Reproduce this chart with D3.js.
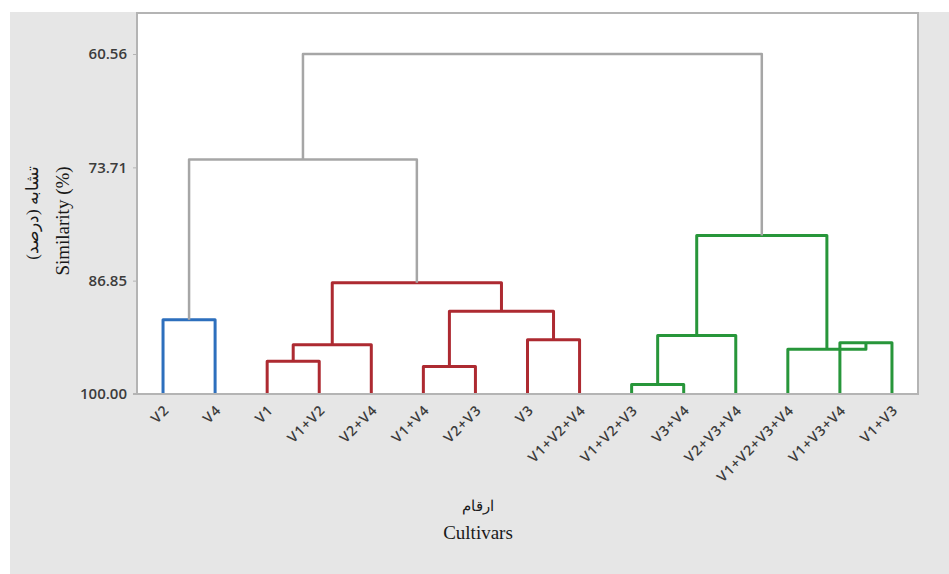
<!DOCTYPE html>
<meta charset="utf-8">
<title>Dendrogram - Cultivars</title>
<script src="https://d3js.org/d3.v7.min.js"></script>
<style>
    body { margin: 0; background: #ffffff; }
    svg { display: block; }
</style>
<body>
<script>

    // Leaves, in the order they appear on the x axis
    const leaves = ["V2", "V4", "V1", "V1+V2", "V2+V4", "V1+V4", "V2+V3", "V3", "V1+V2+V4",
                    "V1+V2+V3", "V3+V4", "V2+V3+V4", "V1+V2+V3+V4", "V1+V3+V4", "V1+V3"];

    // Merge steps: leaf index 0..14, merge k makes cluster 15 + k
    const mergeLeft       = [9,    5,    2,    17,   13,    12,   7,    15,   0,    16,   18,   22,   23,    27];
    const mergeRight      = [10,   6,    3,    4,    14,    19,   8,    11,   1,    21,   24,   20,   25,    26];
    const mergeSimilarity = [98.9, 96.8, 96.2, 94.3, 94.05, 94.8, 93.7, 93.2, 91.4, 90.4, 87.1, 81.6, 72.8,  60.56];
    const mergeGroup      = ["g",  "r",  "r",  "r",  "g",   "g",  "r",  "g",  "b",  "r",  "r",  "g",  "k",   "k"];

    const yTicks = [60.56, 73.71, 86.85, 100.00];

    const colors = { b: "#2d6fbd", r: "#ad2a31", g: "#27963a", k: "#a6a6a6" };

    // SVG constraints
    const width  = 949;
    const height = 574;
    const plot = { left: 137, right: 918, top: 13, bottom: 394 };

    const svg = d3.select("body")
                  .append("svg")
                  .attr("width", width)
                  .attr("height", height);

    // Grey figure background
    svg.append("rect")
        .attr("x", 10).attr("y", 12)
        .attr("width", width - 10).attr("height", height - 12)
        .attr("fill", "#e6e6e6");

    // White plot area
    svg.append("rect")
        .attr("x", plot.left).attr("y", plot.top)
        .attr("width", plot.right - plot.left)
        .attr("height", plot.bottom - plot.top)
        .attr("fill", "#ffffff")
        .attr("stroke", "#b4b4b4")
        .attr("stroke-width", 2);

    // Scales
    const xScale = d3.scalePoint()
                     .domain(leaves)
                     .range([plot.left, plot.right])
                     .padding(0.5);

    const yScale = d3.scaleLinear()
                     .domain([60.56, 100])
                     .range([54, plot.bottom]);

    // Build cluster positions from the merges
    const nodeX = leaves.map(d => xScale(d));
    const nodeH = leaves.map(() => 100);

    const links = mergeLeft.map((l, k) => {
        const r = mergeRight[k];
        const h = mergeSimilarity[k];
        const link = { x1: nodeX[l], h1: nodeH[l], x2: nodeX[r], h2: nodeH[r], h: h, group: mergeGroup[k] };
        nodeX.push((nodeX[l] + nodeX[r]) / 2);
        nodeH.push(h);
        return link;
    });

    // Draw the dendrogram
    svg.append("g")
        .attr("id", "tree")
        .selectAll("path")
        .data(links)
        .enter()
        .append("path")
        .attr("d", d => "M" + d.x1 + "," + yScale(d.h1) +
                        "V" + yScale(d.h) +
                        "H" + d.x2 +
                        "V" + yScale(d.h2))
        .attr("fill", "none")
        .attr("stroke", d => colors[d.group])
        .attr("stroke-width", d => d.group === "k" ? 2.5 : 3)
        .attr("stroke-linejoin", "round");

    // Y axis
    const yAxis = d3.axisLeft(yScale)
                    .tickValues(yTicks)
                    .tickFormat(d3.format(".2f"))
                    .tickSize(4)
                    .tickPadding(6);

    const gy = svg.append("g")
        .attr("id", "yAxis")
        .attr("transform", "translate(" + plot.left + ",0)")
        .call(yAxis);

    gy.select(".domain").remove();
    gy.selectAll(".tick line").attr("stroke", "#b4b4b4");
    gy.selectAll(".tick text")
        .attr("fill", "#3c3c3c")
        .style("font-family", "'Open Sans', sans-serif")
        .style("font-weight", 600)
        .style("font-size", "15px");

    // X axis line
    svg.append("line")
        .attr("x1", plot.left - 4).attr("x2", plot.right)
        .attr("y1", plot.bottom).attr("y2", plot.bottom)
        .attr("stroke", "#b4b4b4")
        .attr("stroke-width", 2);

    // Labels are clipped at the bottom like the original export
    svg.append("clipPath")
        .attr("id", "labelClip")
        .append("rect")
        .attr("x", 0).attr("y", plot.bottom)
        .attr("width", width).attr("height", 96);

    svg.append("g")
        .attr("id", "xLabels")
        .attr("clip-path", "url(#labelClip)")
        .selectAll("text")
        .data(leaves)
        .enter()
        .append("text")
        .attr("transform", d => "translate(" + (xScale(d) + 7) + "," + (plot.bottom + 17) + ") rotate(-45)")
        .attr("text-anchor", "end")
        .attr("fill", "#3c3c3c")
        .style("font-family", "'Open Sans', sans-serif")
        .style("font-weight", 600)
        .style("font-size", "14px")
        .style("letter-spacing", "1px")
        .text(d => d);

    // Axis titles
    const serif = "'Liberation Serif', 'DejaVu Serif', serif";

    svg.append("text")
        .attr("x", 478).attr("y", 511)
        .attr("text-anchor", "middle")
        .attr("direction", "rtl")
        .style("font-family", serif)
        .style("font-size", "15px")
        .attr("fill", "#1a1a1a")
        .text("ارقام");

    svg.append("text")
        .attr("x", 478).attr("y", 539)
        .attr("text-anchor", "middle")
        .style("font-family", serif)
        .style("font-size", "19px")
        .attr("fill", "#1a1a1a")
        .text("Cultivars");

    svg.append("text")
        .attr("transform", "translate(69,221) rotate(-90)")
        .attr("text-anchor", "middle")
        .style("font-family", serif)
        .style("font-size", "19px")
        .attr("fill", "#1a1a1a")
        .text("Similarity (%)");

    svg.append("text")
        .attr("transform", "translate(38,213) rotate(-90)")
        .attr("text-anchor", "middle")
        .attr("direction", "rtl")
        .style("font-family", serif)
        .style("font-size", "17px")
        .attr("fill", "#1a1a1a")
        .text("تشابه (درصد)");

</script>
</body>
